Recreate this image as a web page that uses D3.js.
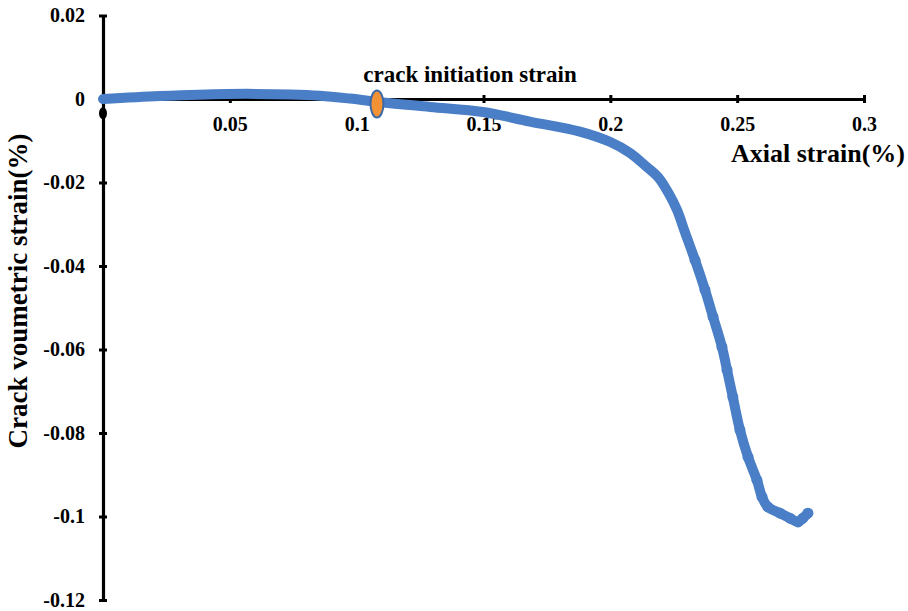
<!DOCTYPE html>
<html>
<head>
<meta charset="utf-8">
<script src="https://cdn.jsdelivr.net/npm/d3@7"></script>
<style>
  html, body { margin: 0; padding: 0; background: #fff; }
  svg { display: block; }
</style>
</head>
<body>
<svg id="chart" width="908" height="611"></svg>
<script>
// Axial strain (%) vs crack volumetric strain (%)
const axialStrain = [0, 0.0225, 0.049, 0.0737, 0.0855, 0.0974, 0.1076, 0.129, 0.1498, 0.1683, 0.188, 0.200,
  0.2077, 0.2144, 0.2188, 0.2227, 0.2263, 0.2294, 0.2334, 0.2373, 0.2405, 0.244, 0.246, 0.2483, 0.2511, 0.2543,
  0.2578, 0.2598, 0.2621, 0.2669, 0.2708, 0.274, 0.2759, 0.2779];
const crackVolStrain = [0, 0.0007, 0.0012, 0.0011, 0.0008, 0.0001, -0.00065, -0.0019, -0.0031, -0.0054, -0.0078, -0.0103,
  -0.0129, -0.0163, -0.0187, -0.0223, -0.0266, -0.0319, -0.0386, -0.0457, -0.0522, -0.0594, -0.0649, -0.0714, -0.0793, -0.0858,
  -0.0913, -0.0953, -0.0977, -0.0992, -0.1004, -0.1013, -0.1004, -0.0992];

const xTicks = [0.05, 0.1, 0.15, 0.2, 0.25, 0.3];
const xTickLabels = ["0.05", "0.1", "0.15", "0.2", "0.25", "0.3"];
const yTicks = [0.02, 0, -0.02, -0.04, -0.06, -0.08, -0.1, -0.12];
const yTickLabels = ["0.02", "0", "-0.02", "-0.04", "-0.06", "-0.08", "-0.1", "-0.12"];

const crackInitiation = { x: 0.108, y: -0.0012, label: "crack initiation strain" };
const xTitle = "Axial strain(%)";
const yTitle = "Crack voumetric strain(%)";

const serif = '"Liberation Serif", "Times New Roman", serif';
const svg = d3.select("#chart");
const x = d3.scaleLinear().domain([0, 0.3]).range([103, 864]);
const y = d3.scaleLinear().domain([-0.12, 0.02]).range([600, 15.5]);

const blue = "#4a7ec6";

function styleText(sel, size) {
  sel.style("font-family", serif).style("font-weight", "bold").style("font-size", size + "px").style("fill", "#000");
}

// y axis
const yAxis = svg.append("g").attr("transform", `translate(${x(0)},0)`)
  .call(d3.axisLeft(y).tickValues(yTicks).tickFormat((d, i) => yTickLabels[i]).tickSizeInner(4).tickSizeOuter(0).tickPadding(14));
yAxis.select(".domain").attr("stroke", "#000").attr("stroke-width", 3.2);
yAxis.selectAll(".tick line").attr("stroke", "#000").attr("stroke-width", 3).attr("x1", -4).attr("x2", 4);
styleText(yAxis.selectAll(".tick text"), 20);

// x axis (through y = 0)
const xAxis = svg.append("g").attr("transform", `translate(0,${y(0)})`)
  .call(d3.axisBottom(x).tickValues(xTicks).tickFormat((d, i) => xTickLabels[i]).tickSizeInner(4).tickSizeOuter(0).tickPadding(14));
xAxis.select(".domain").attr("stroke", "#000").attr("stroke-width", 3.2);
xAxis.selectAll(".tick line").attr("stroke", "#000").attr("stroke-width", 3).attr("y1", -4).attr("y2", 4);
styleText(xAxis.selectAll(".tick text"), 20);

// origin marker below the axes crossing
svg.append("ellipse").attr("cx", x(0)).attr("cy", y(-0.0034)).attr("rx", 4).attr("ry", 6).attr("fill", "#000");

// curve
const pts = axialStrain.map((v, i) => [v, crackVolStrain[i]]);
const line = d3.line().x(d => x(d[0])).y(d => y(d[1])).curve(d3.curveCatmullRom.alpha(0.5));
svg.append("path").datum(pts).attr("d", line)
  .attr("fill", "none").attr("stroke", blue).attr("stroke-width", 10)
  .attr("stroke-linecap", "round").attr("stroke-linejoin", "round");
svg.selectAll("circle.pt").data(pts.slice(18)).join("circle").attr("class", "pt")
  .attr("cx", d => x(d[0])).attr("cy", d => y(d[1])).attr("r", 5.5).attr("fill", blue);

// crack initiation marker
svg.append("ellipse")
  .attr("cx", x(crackInitiation.x)).attr("cy", y(crackInitiation.y))
  .attr("rx", 6.5).attr("ry", 13.5)
  .attr("fill", "#f39234").attr("stroke", "#3d6aa6").attr("stroke-width", 2);
styleText(svg.append("text").attr("x", 470).attr("y", 82).attr("text-anchor", "middle")
  .text(crackInitiation.label), 23);

// axis titles
styleText(svg.append("text").attr("x", 905).attr("y", 162).attr("text-anchor", "end").text(xTitle), 26);
styleText(svg.append("text").attr("transform", "translate(27,291) rotate(-90)").attr("text-anchor", "middle")
  .text(yTitle), 27);
</script>
</body>
</html>
